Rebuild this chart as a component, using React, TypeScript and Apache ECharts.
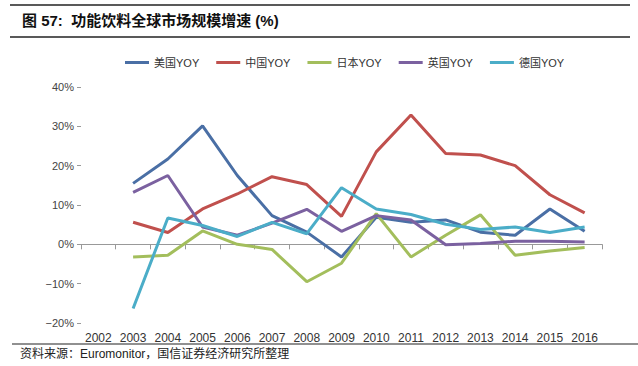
import React, { useEffect, useRef } from "react";
import * as echarts from "echarts";

const years = ["2002", "2003", "2004", "2005", "2006", "2007", "2008", "2009", "2010", "2011", "2012", "2013", "2014", "2015", "2016"];
const usYoy = [null, 15.5, 21.7, 30.1, 17.5, 7.3, 3.1, -3.2, 6.9, 5.6, 6.2, 3.1, 2.3, 9.0, 3.3];
const cnYoy = [null, 5.6, 3.0, 9.0, 12.8, 17.2, 15.2, 7.1, 23.5, 32.9, 23.1, 22.7, 20.0, 12.6, 8.0];
const jpYoy = [null, -3.2, -2.8, 3.4, 0.0, -1.3, -9.5, -4.8, 7.8, -3.2, 2.3, 7.5, -2.8, -1.7, -0.8];
const ukYoy = [null, 13.2, 17.5, 4.4, 2.3, 5.4, 8.9, 3.3, 7.3, 6.2, -0.1, 0.2, 0.8, 0.8, 0.6];
const deYoy = [null, -16.3, 6.7, 4.8, 2.0, 5.6, 2.7, 14.4, 9.0, 7.6, 5.1, 3.8, 4.4, 3.0, 4.4];
const yTicks = [-20, -10, 0, 10, 20, 30, 40];

const seriesNames = ["美国YOY", "中国YOY", "日本YOY", "英国YOY", "德国YOY"];
const seriesData = [usYoy, cnYoy, jpYoy, ukYoy, deYoy];
const colors = ["#4A6FA5", "#C0504D", "#A3BE5C", "#7B61A0", "#4BADC8"];

const FONT = '"Liberation Sans", Arial, "Noto Sans CJK SC", sans-serif';

export default function App() {
  const ref = useRef<HTMLDivElement>(null);
  useEffect(() => {
    const chart = echarts.init(ref.current!, null, { renderer: "svg" });
    chart.setOption({
      animation: false,
      backgroundColor: "#ffffff",
      textStyle: { fontFamily: FONT },
      graphic: [
        { type: "line", shape: { x1: 10, y1: 5, x2: 630, y2: 5 }, style: { stroke: "#222", lineWidth: 1.5 } },
        { type: "line", shape: { x1: 10, y1: 37, x2: 630, y2: 37 }, style: { stroke: "#222", lineWidth: 1.5 } },
        {
          type: "text", left: 22, top: 13,
          style: { text: "图 57:  功能饮料全球市场规模增速 (%)", fontSize: 15, fontWeight: "bold", fill: "#111", fontFamily: FONT },
        },
        { type: "line", shape: { x1: 12, y1: 344, x2: 638, y2: 344 }, style: { stroke: "#222", lineWidth: 1.2 } },
        {
          type: "text", left: 20, top: 348,
          style: { text: "资料来源：Euromonitor，国信证券经济研究所整理", fontSize: 12, fill: "#222", fontFamily: FONT },
        },
      ],
      legend: {
        left: 125,
        top: 57,
        padding: 0,
        icon: "rect",
        itemWidth: 24,
        itemHeight: 3,
        itemGap: 17,
        textStyle: { fontSize: 11, color: "#333", fontFamily: FONT },
        data: seriesNames,
      },
      grid: { left: 81, right: 36, top: 87, bottom: 43, containLabel: false },
      xAxis: {
        type: "category",
        data: years,
        boundaryGap: true,
        axisLine: { onZero: true, lineStyle: { color: "#999", width: 1 } },
        axisTick: { show: true, length: 5, lineStyle: { color: "#999" } },
        axisLabel: { fontSize: 12, color: "#333", margin: 9, fontFamily: FONT },
        splitLine: { show: false },
      },
      yAxis: {
        type: "value",
        min: -20,
        max: 40,
        interval: 10,
        axisLine: { show: false },
        axisTick: { show: true, length: 4, lineStyle: { color: "#999" } },
        axisLabel: { fontSize: 11, color: "#444", margin: 7, formatter: (v: number) => (yTicks.includes(v) ? `${v < 0 ? "−" + Math.abs(v) : v}%` : "") },
        splitLine: { show: false },
      },
      series: seriesNames.map((name, i) => ({
        name,
        type: "line",
        data: seriesData[i],
        symbol: "none",
        lineStyle: { width: 3, color: colors[i] },
        itemStyle: { color: colors[i] },
        connectNulls: false,
      })),
    });
    return () => chart.dispose();
  }, []);
  return <div ref={ref} style={{ width: 638, height: 366, position: "absolute", left: 0, top: 0 }} />;
}
